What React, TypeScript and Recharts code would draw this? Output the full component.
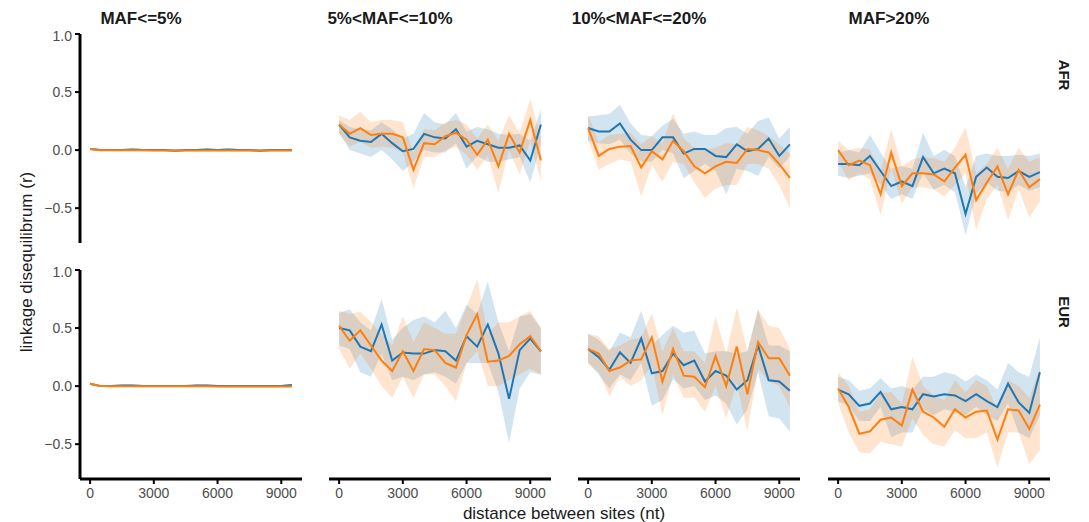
import React from 'react';
import { ComposedChart, Area, Line, XAxis, YAxis } from 'recharts';

// distance between sites (nt), one point every 500 nt
const distances = [0, 500, 1000, 1500, 2000, 2500, 3000, 3500, 4000, 4500, 5000, 5500, 6000, 6500, 7000, 7500, 8000, 8500, 9000, 9500];
const mafBins = ['MAF<=5%', '5%<MAF<=10%', '10%<MAF<=20%', 'MAF>20%'];
const populations = ['AFR', 'EUR'];
const xTicks = [0, 3000, 6000, 9000];
const yTicks = [-0.5, 0, 0.5, 1.0];

// ---- AFR ----
const afr1Blue = [0.01, 0.0, 0.0, 0.0, 0.005, 0.0, 0.0, 0.0, -0.005, 0.0, 0.0, 0.005, 0.0, 0.005, 0.0, 0.0, -0.005, 0.0, 0.0, 0.0];
const afr1BlueLo = [0.0, -0.01, -0.01, -0.01, -0.005, -0.01, -0.01, -0.01, -0.015, -0.01, -0.01, -0.005, -0.01, -0.005, -0.01, -0.01, -0.015, -0.01, -0.01, -0.01];
const afr1BlueHi = [0.02, 0.01, 0.01, 0.01, 0.015, 0.01, 0.01, 0.01, 0.005, 0.01, 0.01, 0.015, 0.01, 0.015, 0.01, 0.01, 0.005, 0.01, 0.01, 0.01];
const afr1Orange = [0.01, -0.002, -0.002, -0.002, -0.002, -0.002, -0.003, -0.003, -0.003, -0.003, -0.003, -0.003, -0.003, -0.004, -0.004, -0.004, -0.004, -0.004, -0.004, -0.004];
const afr1OrangeLo = [0.0, -0.01, -0.01, -0.01, -0.01, -0.01, -0.012, -0.012, -0.012, -0.012, -0.012, -0.012, -0.012, -0.013, -0.013, -0.013, -0.013, -0.013, -0.013, -0.013];
const afr1OrangeHi = [0.02, 0.006, 0.006, 0.006, 0.006, 0.006, 0.006, 0.006, 0.006, 0.006, 0.006, 0.006, 0.006, 0.005, 0.005, 0.005, 0.005, 0.005, 0.005, 0.005];

const afr2Blue = [0.22, 0.11, 0.08, 0.07, 0.14, 0.06, -0.01, 0.01, 0.14, 0.11, 0.1, 0.18, 0.03, 0.08, 0.05, 0.02, 0.02, 0.04, -0.09, 0.22];
const afr2BlueLo = [0.15, 0.0, -0.03, -0.06, 0.0, -0.08, -0.18, -0.1, 0.0, -0.02, -0.02, 0.06, -0.16, -0.05, -0.1, -0.1, -0.08, -0.06, -0.28, 0.05];
const afr2BlueHi = [0.26, 0.2, 0.18, 0.17, 0.24, 0.18, 0.1, 0.14, 0.32, 0.24, 0.22, 0.32, 0.16, 0.2, 0.18, 0.14, 0.13, 0.14, 0.08, 0.35];
const afr2Orange = [0.22, 0.14, 0.19, 0.13, 0.14, 0.14, 0.11, -0.17, 0.06, 0.05, 0.12, 0.15, 0.09, -0.04, 0.09, -0.14, 0.14, -0.02, 0.26, -0.09];
const afr2OrangeLo = [0.14, 0.03, 0.07, 0.02, 0.03, 0.02, -0.02, -0.33, -0.06, -0.06, 0.0, 0.03, -0.04, -0.17, -0.05, -0.37, 0.0, -0.21, 0.08, -0.27];
const afr2OrangeHi = [0.3, 0.26, 0.33, 0.24, 0.26, 0.26, 0.24, -0.02, 0.18, 0.17, 0.24, 0.26, 0.22, 0.1, 0.22, 0.08, 0.3, 0.15, 0.44, 0.1];

const afr3Blue = [0.19, 0.16, 0.16, 0.23, 0.09, 0.0, 0.0, 0.11, 0.11, -0.03, 0.01, 0.01, -0.05, -0.06, 0.05, -0.01, 0.01, 0.1, -0.05, 0.05];
const afr3BlueLo = [0.08, 0.06, 0.05, 0.09, -0.03, -0.1, -0.1, 0.0, -0.03, -0.24, -0.18, -0.12, -0.18, -0.38, -0.16, -0.18, -0.22, -0.06, -0.16, -0.05];
const afr3BlueHi = [0.29, 0.3, 0.31, 0.39, 0.23, 0.13, 0.12, 0.21, 0.27, 0.14, 0.16, 0.13, 0.13, 0.19, 0.2, 0.14, 0.25, 0.28, 0.1, 0.2];
const afr3Orange = [0.19, -0.05, 0.01, 0.03, 0.035, -0.15, -0.01, -0.08, 0.08, -0.01, -0.14, -0.2, -0.14, -0.1, -0.11, 0.01, 0.0, -0.02, -0.12, -0.24];
const afr3OrangeLo = [0.09, -0.17, -0.12, -0.08, -0.1, -0.4, -0.13, -0.27, -0.1, -0.12, -0.28, -0.41, -0.33, -0.3, -0.3, -0.12, -0.12, -0.16, -0.3, -0.5];
const afr3OrangeHi = [0.3, 0.07, 0.13, 0.14, 0.15, 0.05, 0.12, 0.06, 0.32, 0.1, 0.02, 0.0, 0.02, 0.06, 0.05, 0.2, 0.17, 0.12, 0.05, -0.03];

const afr4Blue = [-0.12, -0.12, -0.13, -0.05, -0.18, -0.31, -0.27, -0.31, -0.06, -0.2, -0.16, -0.2, -0.55, -0.23, -0.15, -0.23, -0.24, -0.18, -0.23, -0.19];
const afr4BlueLo = [-0.22, -0.24, -0.22, -0.2, -0.3, -0.42, -0.38, -0.42, -0.2, -0.34, -0.3, -0.36, -0.73, -0.38, -0.28, -0.35, -0.36, -0.3, -0.35, -0.32];
const afr4BlueHi = [-0.02, 0.0, -0.02, 0.13, -0.02, -0.16, -0.14, -0.16, 0.15, -0.05, 0.0, -0.05, -0.32, -0.05, -0.03, -0.05, -0.05, -0.04, -0.05, -0.03];
const afr4Orange = [0.0, -0.13, -0.09, -0.13, -0.38, -0.02, -0.31, -0.2, -0.2, -0.21, -0.27, -0.15, -0.04, -0.43, -0.28, -0.14, -0.38, -0.17, -0.32, -0.25];
const afr4OrangeLo = [-0.1, -0.26, -0.2, -0.25, -0.56, -0.16, -0.46, -0.32, -0.32, -0.34, -0.4, -0.3, -0.2, -0.69, -0.42, -0.3, -0.6, -0.34, -0.58, -0.44];
const afr4OrangeHi = [0.08, 0.0, 0.02, 0.0, -0.18, 0.18, -0.14, -0.08, -0.06, -0.07, -0.1, 0.02, 0.2, -0.2, -0.12, 0.02, -0.16, 0.02, -0.1, -0.06];

// ---- EUR ----
const eur1Blue = [0.02, 0.0, 0.0, 0.005, 0.005, 0.0, 0.0, 0.0, 0.0, 0.0, 0.005, 0.005, 0.0, 0.0, 0.0, 0.0, 0.0, 0.0, 0.0, 0.01];
const eur1BlueLo = [0.01, -0.01, -0.01, -0.005, -0.005, -0.01, -0.01, -0.01, -0.01, -0.01, -0.005, -0.005, -0.01, -0.01, -0.01, -0.01, -0.01, -0.01, -0.01, 0.0];
const eur1BlueHi = [0.03, 0.01, 0.01, 0.015, 0.015, 0.01, 0.01, 0.01, 0.01, 0.01, 0.015, 0.015, 0.01, 0.01, 0.01, 0.01, 0.01, 0.01, 0.01, 0.02];
const eur1Orange = [0.02, 0.0, -0.002, -0.002, -0.002, -0.002, -0.002, -0.002, -0.002, -0.002, -0.002, -0.002, -0.003, -0.003, -0.003, -0.003, -0.003, -0.003, -0.003, -0.003];
const eur1OrangeLo = [0.01, -0.008, -0.01, -0.01, -0.01, -0.01, -0.01, -0.01, -0.01, -0.01, -0.01, -0.01, -0.011, -0.011, -0.011, -0.011, -0.011, -0.011, -0.011, -0.011];
const eur1OrangeHi = [0.03, 0.008, 0.006, 0.006, 0.006, 0.006, 0.006, 0.006, 0.006, 0.006, 0.006, 0.006, 0.005, 0.005, 0.005, 0.005, 0.005, 0.005, 0.005, 0.005];

const eur2Blue = [0.5, 0.48, 0.34, 0.3, 0.53, 0.22, 0.29, 0.28, 0.28, 0.31, 0.3, 0.22, 0.43, 0.34, 0.53, 0.28, -0.11, 0.31, 0.41, 0.3];
const eur2BlueLo = [0.35, 0.32, 0.12, 0.08, 0.28, 0.05, 0.08, 0.05, 0.1, 0.12, 0.08, 0.02, 0.2, 0.2, 0.2, -0.05, -0.49, -0.02, 0.12, 0.1];
const eur2BlueHi = [0.63, 0.66, 0.55, 0.48, 0.75, 0.4, 0.5, 0.57, 0.6, 0.55, 0.65, 0.5, 0.7, 0.62, 0.9, 0.55, 0.3, 0.6, 0.62, 0.5];
const eur2Orange = [0.52, 0.39, 0.48, 0.35, 0.22, 0.13, 0.3, 0.13, 0.32, 0.31, 0.2, 0.16, 0.44, 0.62, 0.21, 0.22, 0.26, 0.36, 0.43, 0.3];
const eur2OrangeLo = [0.32, 0.15, 0.28, 0.15, 0.0, -0.1, 0.08, -0.1, 0.1, 0.1, 0.0, -0.13, 0.2, 0.3, 0.0, 0.0, 0.05, 0.1, 0.15, 0.1];
const eur2OrangeHi = [0.65, 0.62, 0.64, 0.55, 0.45, 0.35, 0.6, 0.38, 0.55, 0.5, 0.45, 0.45, 0.68, 0.92, 0.45, 0.55, 0.55, 0.6, 0.65, 0.5];

const eur3Blue = [0.32, 0.25, 0.14, 0.29, 0.2, 0.41, 0.11, 0.13, 0.28, 0.18, 0.22, 0.04, 0.13, 0.09, -0.03, 0.05, 0.35, 0.05, 0.04, -0.04];
const eur3BlueLo = [0.2, 0.1, -0.02, 0.1, 0.05, 0.2, -0.17, -0.12, 0.06, -0.02, 0.0, -0.12, -0.08, -0.15, -0.33, -0.2, 0.12, -0.26, -0.28, -0.39];
const eur3BlueHi = [0.45, 0.4, 0.3, 0.46, 0.42, 0.65, 0.35, 0.44, 0.52, 0.46, 0.48, 0.28, 0.3, 0.3, 0.28, 0.3, 0.66, 0.35, 0.35, 0.3];
const eur3Orange = [0.32, 0.28, 0.13, 0.16, 0.22, 0.23, 0.42, 0.04, 0.32, 0.09, 0.08, -0.01, 0.26, 0.0, 0.34, -0.07, 0.38, 0.24, 0.24, 0.09];
const eur3OrangeLo = [0.2, 0.12, -0.09, 0.08, 0.0, 0.05, 0.18, -0.25, 0.1, -0.1, -0.1, -0.22, 0.0, -0.28, 0.02, -0.39, 0.15, 0.04, 0.0, -0.18];
const eur3OrangeHi = [0.45, 0.43, 0.32, 0.35, 0.4, 0.42, 0.63, 0.3, 0.5, 0.3, 0.3, 0.2, 0.6, 0.28, 0.68, 0.3, 0.66, 0.52, 0.5, 0.32];

const eur4Blue = [-0.03, -0.07, -0.17, -0.15, -0.05, -0.2, -0.18, -0.2, -0.07, -0.09, -0.07, -0.08, -0.13, -0.07, -0.13, -0.18, 0.02, -0.14, -0.23, 0.12];
const eur4BlueLo = [-0.13, -0.17, -0.3, -0.3, -0.18, -0.44, -0.4, -0.4, -0.2, -0.25, -0.2, -0.22, -0.25, -0.18, -0.25, -0.3, -0.15, -0.4, -0.45, -0.25];
const eur4BlueHi = [0.08, 0.05, -0.04, -0.02, 0.07, -0.02, 0.0, -0.03, 0.08, 0.08, 0.12, 0.1, 0.04, 0.1, 0.05, -0.03, 0.2, 0.12, 0.08, 0.42];
const eur4Orange = [-0.02, -0.18, -0.41, -0.39, -0.29, -0.27, -0.34, -0.03, -0.22, -0.27, -0.35, -0.2, -0.27, -0.22, -0.21, -0.46, -0.2, -0.21, -0.37, -0.16];
const eur4OrangeLo = [-0.15, -0.4, -0.57, -0.58, -0.48, -0.5, -0.52, -0.28, -0.42, -0.5, -0.52, -0.38, -0.45, -0.45, -0.4, -0.7, -0.4, -0.4, -0.67, -0.55];
const eur4OrangeHi = [0.12, 0.0, -0.22, -0.2, -0.06, -0.05, -0.15, 0.25, 0.0, -0.08, -0.12, 0.05, -0.05, 0.05, 0.0, -0.2, 0.05, 0.0, -0.1, 0.16];

const grid = [
  [
    [afr1Blue, afr1BlueLo, afr1BlueHi, afr1Orange, afr1OrangeLo, afr1OrangeHi],
    [afr2Blue, afr2BlueLo, afr2BlueHi, afr2Orange, afr2OrangeLo, afr2OrangeHi],
    [afr3Blue, afr3BlueLo, afr3BlueHi, afr3Orange, afr3OrangeLo, afr3OrangeHi],
    [afr4Blue, afr4BlueLo, afr4BlueHi, afr4Orange, afr4OrangeLo, afr4OrangeHi],
  ],
  [
    [eur1Blue, eur1BlueLo, eur1BlueHi, eur1Orange, eur1OrangeLo, eur1OrangeHi],
    [eur2Blue, eur2BlueLo, eur2BlueHi, eur2Orange, eur2OrangeLo, eur2OrangeHi],
    [eur3Blue, eur3BlueLo, eur3BlueHi, eur3Orange, eur3OrangeLo, eur3OrangeHi],
    [eur4Blue, eur4BlueLo, eur4BlueHi, eur4Orange, eur4OrangeLo, eur4OrangeHi],
  ],
];

const BLUE = '#1f77b4';
const ORANGE = '#ff7f0e';
const FONT = '"Liberation Sans", Arial, Helvetica, sans-serif';
const COL_LEFT = [80, 329, 578, 828];
const ROW_TOP = [34, 270];
const PLOT_W = 222;
const PLOT_H = 209;
const Y_AXIS_W = 60;
const X_AXIS_H = 40;

const fmtY = (v: number) => v.toFixed(1).replace('-', '\u2212');

function Panel({ row, col }: { row: number; col: number }) {
  const [b, bLo, bHi, o, oLo, oHi] = grid[row][col];
  const data = distances.map((d, i) => ({
    d,
    blue: b[i],
    blueBand: [bLo[i], bHi[i]],
    orange: o[i],
    orangeBand: [oLo[i], oHi[i]],
  }));
  const showY = col === 0;
  const showX = row === 1;
  const mTop = 6;
  const mRight = 4;
  const mBottom = showX ? 0 : 4;
  const width = PLOT_W + (showY ? Y_AXIS_W : 0) + mRight;
  const height = mTop + PLOT_H + (showX ? X_AXIS_H : mBottom);
  return (
    <div style={{ position: 'absolute', left: COL_LEFT[col] - (showY ? Y_AXIS_W : 0), top: ROW_TOP[row] - mTop }}>
      <ComposedChart width={width} height={height} data={data} margin={{ top: mTop, right: mRight, bottom: mBottom, left: 0 }}>
        <XAxis
          dataKey="d"
          type="number"
          domain={[-475, 9975]}
          ticks={xTicks}
          allowDataOverflow
          hide={!showX}
          height={X_AXIS_H}
          axisLine={{ stroke: '#000', strokeWidth: 3 }}
          tickLine={{ stroke: '#000', strokeWidth: 2 }}
          tickSize={5}
          tickMargin={4}
          tick={{ fill: '#4d4d4d', fontSize: 14, fontFamily: FONT }}
        />
        <YAxis
          type="number"
          domain={[-0.8, 1]}
          ticks={yTicks}
          allowDataOverflow
          hide={!showY}
          width={Y_AXIS_W}
          tickFormatter={fmtY}
          axisLine={{ stroke: '#000', strokeWidth: 3 }}
          tickLine={{ stroke: '#000', strokeWidth: 2 }}
          tickSize={5}
          tickMargin={3}
          tick={{ fill: '#4d4d4d', fontSize: 14, fontFamily: FONT }}
        />
        <Area type="linear" dataKey="blueBand" stroke="none" fill={BLUE} fillOpacity={0.2} isAnimationActive={false} />
        <Area type="linear" dataKey="orangeBand" stroke="none" fill={ORANGE} fillOpacity={0.2} isAnimationActive={false} />
        <Line type="linear" dataKey="blue" stroke={BLUE} strokeWidth={2} dot={false} isAnimationActive={false} />
        <Line type="linear" dataKey="orange" stroke={ORANGE} strokeWidth={2} dot={false} isAnimationActive={false} />
      </ComposedChart>
    </div>
  );
}

export default function App() {
  return (
    <div style={{ position: 'absolute', left: 0, top: 0, width: 1089, height: 522, background: '#fff', fontFamily: FONT }}>
      {populations.map((_, r) => mafBins.map((_, c) => <Panel key={`${r}-${c}`} row={r} col={c} />))}
      <svg width={1089} height={522} style={{ position: 'absolute', left: 0, top: 0, pointerEvents: 'none' }}>
        {mafBins.map((t, c) => (
          <text key={t} x={COL_LEFT[c] + 61} y={24} textAnchor="middle" fontSize={17} fontWeight="bold" fill="#1a1a1a" fontFamily={FONT}>
            {t}
          </text>
        ))}
        {populations.map((p, r) => (
          <text
            key={p}
            x={0}
            y={0}
            transform={`translate(1059, ${r === 0 ? 75 : 312}) rotate(90)`}
            textAnchor="middle"
            fontSize={15}
            fontWeight="bold"
            fill="#1a1a1a"
            fontFamily={FONT}
          >
            {p}
          </text>
        ))}
        <text x={0} y={0} transform="translate(32, 262) rotate(-90)" textAnchor="middle" fontSize={17} fill="#1a1a1a" fontFamily={FONT}>
          linkage disequilibrum  (r)
        </text>
        <text x={564} y={519} textAnchor="middle" fontSize={17} fill="#1a1a1a" fontFamily={FONT}>
          distance between sites (nt)
        </text>
      </svg>
    </div>
  );
}
